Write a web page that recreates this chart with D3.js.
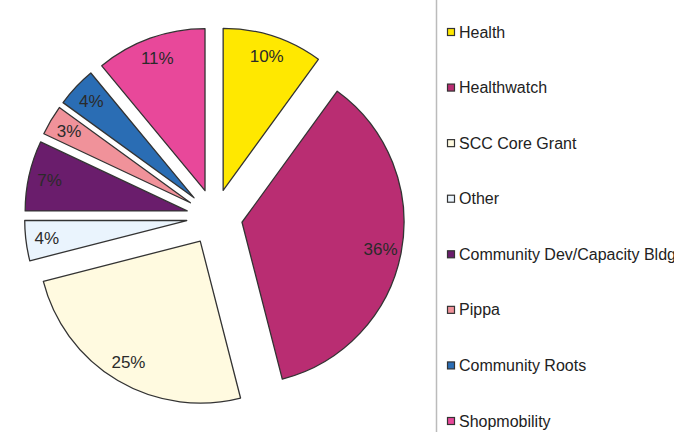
<!DOCTYPE html>
<html>
<head>
<meta charset="utf-8">
<script src="https://cdn.jsdelivr.net/npm/d3@7"></script>
<style>
  body { margin: 0; background: #fff; }
  svg { display: block; }
</style>
</head>
<body>
<script>
const categories = ["Health", "Healthwatch", "SCC Core Grant", "Other", "Community Dev/Capacity Bldg", "Pippa", "Community Roots", "Shopmobility"];
const values = [10, 36, 25, 4, 7, 3, 4, 11];
const colors = ["#ffe800", "#b92d72", "#fffae0", "#eaf4fd", "#6a1d6c", "#f0929a", "#2a6db4", "#e8489a"];

const width = 674, height = 432;
const cx = 214.5, cy = 217, radius = 162, explode = 28, labelR = 141;

const svg = d3.select("body").append("svg")
    .attr("width", width)
    .attr("height", height);

const pie = d3.pie().sort(null).value(d => d.value);
const arcs = pie(categories.map((c, i) => ({ name: c, value: values[i], color: colors[i] })));

const arc = d3.arc().innerRadius(0).outerRadius(radius);

const slice = svg.append("g")
    .attr("transform", `translate(${cx},${cy})`)
  .selectAll("g")
  .data(arcs)
  .join("g")
    .attr("transform", d => {
      const a = (d.startAngle + d.endAngle) / 2;
      return `translate(${Math.sin(a) * explode},${-Math.cos(a) * explode})`;
    });

slice.append("path")
    .attr("d", arc)
    .attr("fill", d => d.data.color)
    .attr("stroke", "#333")
    .attr("stroke-width", 1.3)
    .attr("stroke-linejoin", "round");

slice.append("text")
    .attr("transform", d => {
      const a = (d.startAngle + d.endAngle) / 2;
      return `translate(${Math.sin(a) * labelR},${-Math.cos(a) * labelR})`;
    })
    .attr("text-anchor", "middle")
    .attr("dy", "0.35em")
    .attr("font-family", "Liberation Sans, Arial, sans-serif")
    .attr("font-size", 17)
    .attr("fill", "#2a2a2a")
    .text(d => d.data.value + "%");

// legend
svg.append("line")
    .attr("x1", 436.5).attr("x2", 436.5)
    .attr("y1", 0).attr("y2", height)
    .attr("stroke", "#bbb")
    .attr("stroke-width", 1.5);

const ly = d3.scalePoint().domain(categories).range([32, 421]);

const item = svg.append("g")
  .selectAll("g")
  .data(categories)
  .join("g")
    .attr("transform", d => `translate(447,${ly(d)})`);

item.append("rect")
    .attr("x", 0.5).attr("y", -3.5)
    .attr("width", 7).attr("height", 7)
    .attr("fill", (d, i) => colors[i])
    .attr("stroke", "#333")
    .attr("stroke-width", 1.2);

item.append("text")
    .attr("x", 12)
    .attr("dy", "0.35em")
    .attr("font-family", "Liberation Sans, Arial, sans-serif")
    .attr("font-size", 16)
    .attr("fill", "#222")
    .text(d => d);
</script>
</body>
</html>
